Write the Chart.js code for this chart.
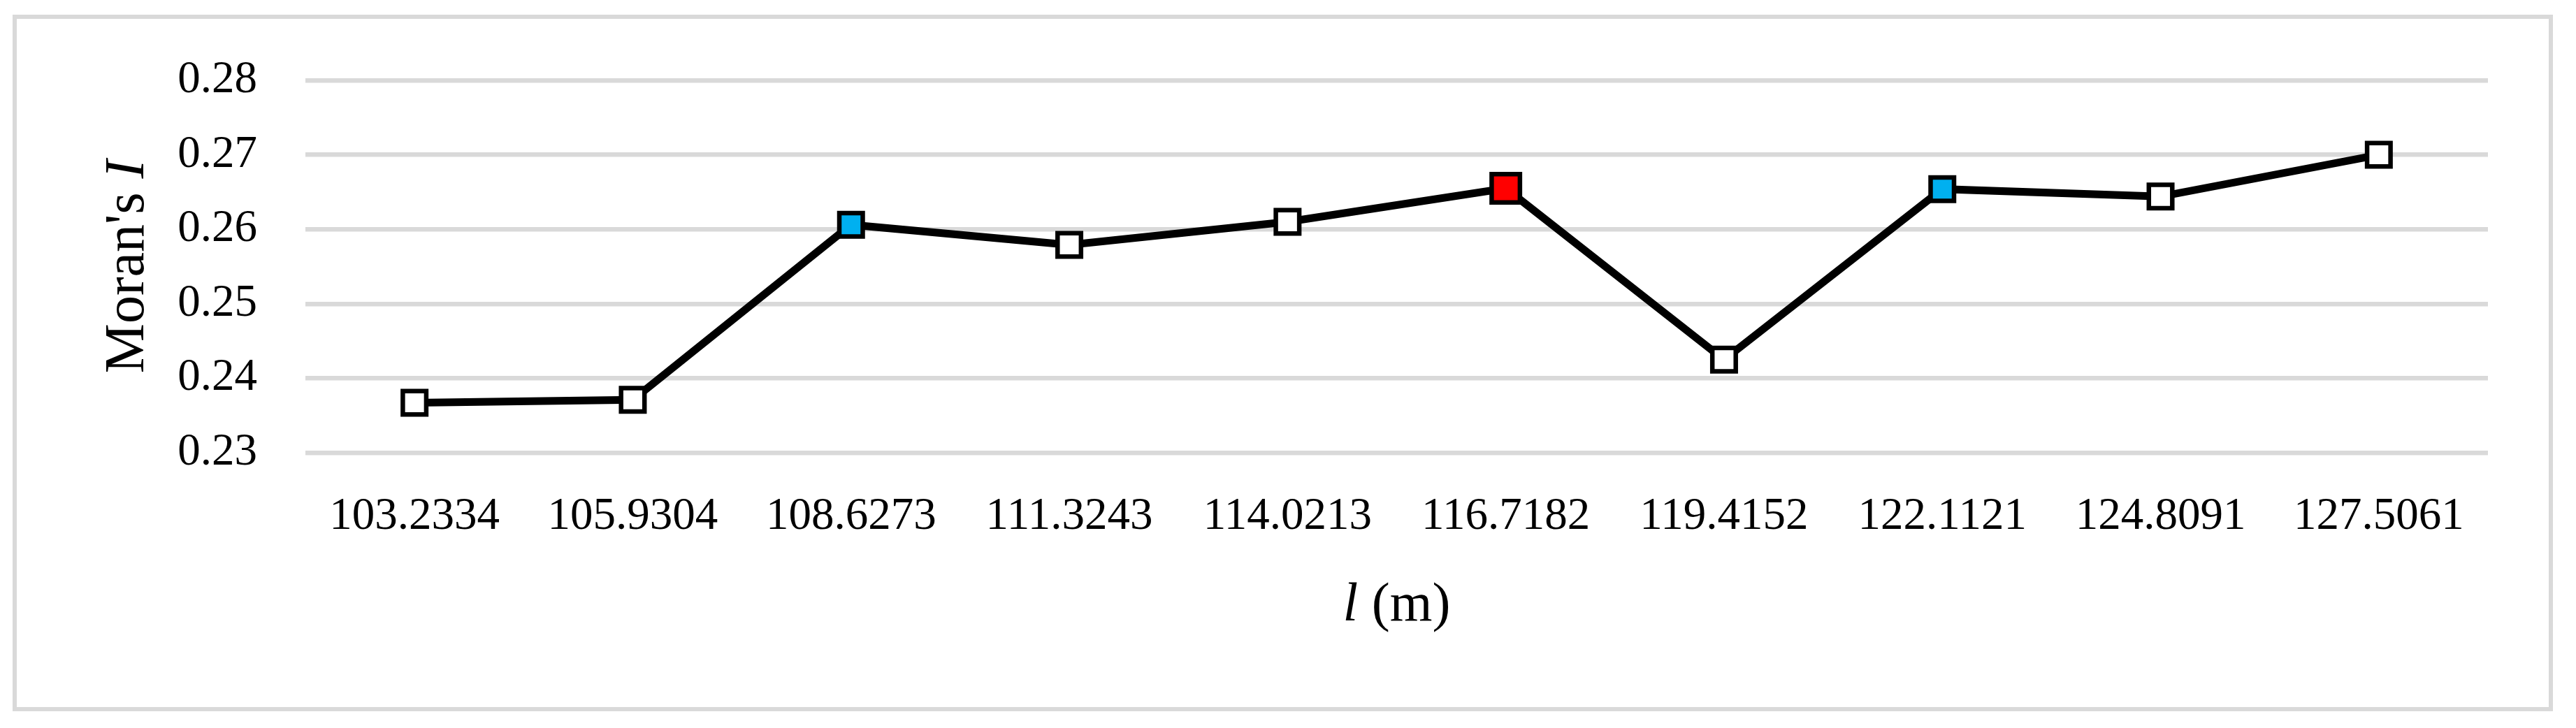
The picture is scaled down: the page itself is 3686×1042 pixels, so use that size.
<!DOCTYPE html>
<html>
<head>
<meta charset="utf-8">
<script src="https://cdn.jsdelivr.net/npm/chart.js@4.4.1/dist/chart.umd.min.js"></script>
<style>
  html, body { margin: 0; padding: 0; background: #fff; }
</style>
</head>
<body>
<canvas id="moranChart" width="3686" height="1042"></canvas>
<script>
// lag distance l (m) and the Moran's I read at each one
const distances = ['103.2334', '105.9304', '108.6273', '111.3243', '114.0213',
                   '116.7182', '119.4152', '122.1121', '124.8091', '127.5061'];
const moranI = [0.2367, 0.2371, 0.2606, 0.2579, 0.2610, 0.2655, 0.2425, 0.2654, 0.2644, 0.2700];
const yTicks = [0.23, 0.24, 0.25, 0.26, 0.27, 0.28];

// which points get the coloured markers
const peakIndex = 5;
const localPeaks = [2, 7];

const SERIF = '"Liberation Serif", "DejaVu Serif", serif';

// draw a string made of normal/italic runs, centred on (cx, cy)
function drawRuns(ctx, runs, size, cx, cy, rot) {
  ctx.save();
  ctx.translate(cx, cy);
  ctx.rotate(rot);
  ctx.fillStyle = '#000';
  ctx.textBaseline = 'alphabetic';
  ctx.textAlign = 'left';
  let total = 0;
  const widths = runs.map(([txt, style]) => {
    ctx.font = style + ' ' + size + 'px ' + SERIF;
    const w = ctx.measureText(txt).width;
    total += w;
    return w;
  });
  let x = -total / 2;
  runs.forEach(([txt, style], i) => {
    ctx.font = style + ' ' + size + 'px ' + SERIF;
    ctx.fillText(txt, x, 0);
    x += widths[i];
  });
  ctx.restore();
}

const frameAndTitles = {
  id: 'frameAndTitles',
  beforeDraw(chart) {
    const ctx = chart.ctx;
    ctx.save();
    ctx.fillStyle = '#fff';
    ctx.fillRect(0, 0, chart.width, chart.height);
    ctx.strokeStyle = '#d9d9d9';
    ctx.lineWidth = 6;
    ctx.strokeRect(21, 24, 3650 - 21, 1015 - 24);
    ctx.restore();
  },
  afterDraw(chart) {
    const {ctx, chartArea} = chart;
    const midY = (chartArea.top + chartArea.bottom) / 2;
    const midX = (chartArea.left + chartArea.right) / 2;
    drawRuns(ctx, [["Moran's ", 'normal'], ['I', 'italic']], 80, 205, midY, -Math.PI / 2);
    drawRuns(ctx, [['l', 'italic'], [' (m)', 'normal']], 78, midX, 888, 0);
  }
};

new Chart(document.getElementById('moranChart'), {
  type: 'line',
  data: {
    labels: distances,
    datasets: [{
      data: moranI,
      borderColor: '#000',
      borderWidth: 11,
      tension: 0,
      pointStyle: 'rect',
      pointRadius: c => c.dataIndex === peakIndex ? 28.6 : 23.7,
      pointBorderWidth: 6.5,
      pointBorderColor: '#000',
      pointBackgroundColor: c => c.dataIndex === peakIndex ? '#ff0000'
        : (localPeaks.includes(c.dataIndex) ? '#00b0f0' : '#ffffff')
    }]
  },
  options: {
    responsive: false,
    animation: false,
    layout: { padding: { top: 115, right: 126, left: 0, bottom: 0 } },
    plugins: {
      legend: { display: false },
      tooltip: { enabled: false }
    },
    scales: {
      x: {
        offset: true,
        grid: { display: false, drawTicks: false },
        border: { display: false },
        ticks: {
          color: '#000',
          padding: 53,
          maxRotation: 0,
          autoSkip: false,
          font: { family: SERIF, size: 65 }
        },
        afterFit: s => { s.height = 1042 - 648; }
      },
      y: {
        min: 0.23,
        max: 0.28,
        grid: { color: '#d9d9d9', lineWidth: 6.5, drawTicks: false },
        border: { display: false },
        ticks: {
          color: '#000',
          padding: 69,
          font: { family: SERIF, size: 65 },
          callback: v => v.toFixed(2)
        },
        afterBuildTicks: s => { s.ticks = yTicks.map(v => ({ value: v })); },
        afterFit: s => { s.width = 437; }
      }
    }
  },
  plugins: [frameAndTitles]
});
</script>
</body>
</html>
